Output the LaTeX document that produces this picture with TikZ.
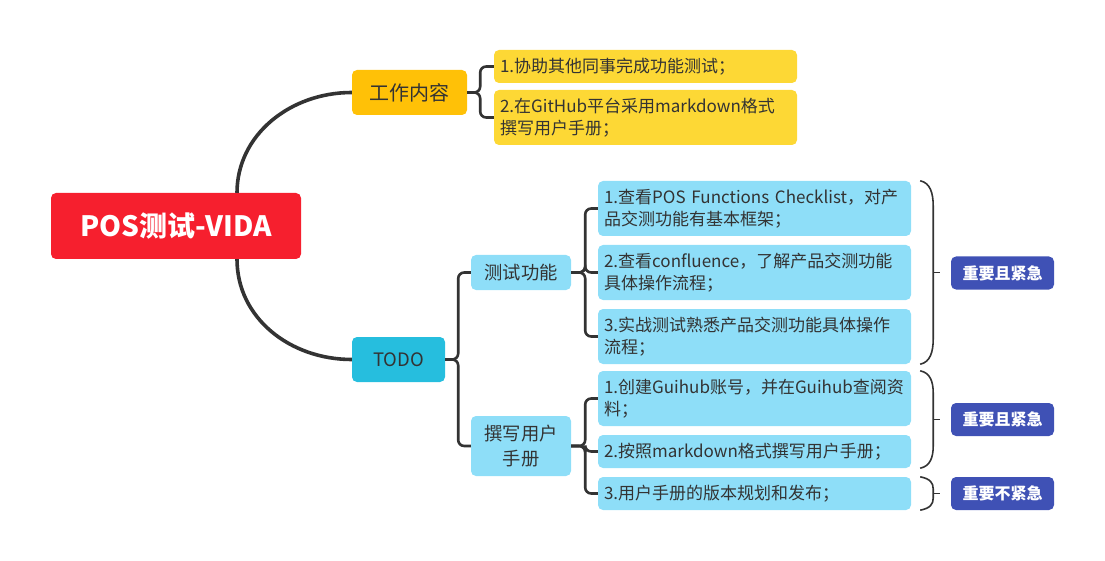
\documentclass[tikz,border=0pt]{standalone}
\usepackage{fontspec}
\setmainfont{Noto Sans CJK SC}
\usepackage{tikz}
\usetikzlibrary{calc}
\definecolor{rootred}{RGB}{246,31,46}
\definecolor{amber}{RGB}{255,193,7}
\definecolor{leafyellow}{RGB}{253,216,53}
\definecolor{todocyan}{RGB}{38,190,222}
\definecolor{leafblue}{RGB}{142,222,248}
\definecolor{tagblue}{RGB}{63,81,181}
\definecolor{ink}{RGB}{51,51,51}

\begin{document}
\begin{tikzpicture}[x=1pt,y=-1pt,
	box/.style={rounded corners=5pt,inner sep=0pt,text=ink},
	leaf/.style={box,minimum height=#1,text width=301pt,inner xsep=6pt,align=left,
		font=\fontsize{17}{22}\selectfont},
	leaf/.default=55pt,
	tag/.style={box,fill=tagblue,text=white,minimum width=103pt,minimum height=33pt,
		font=\fontsize{16}{20}\selectfont\bfseries},
	trunk/.style={draw=ink,line width=3.6pt},
	branch/.style={draw=ink,line width=2.6pt,rounded corners=6pt},
	brace/.style={draw=ink,line width=1.6pt}]
	\useasboundingbox (0,0) rectangle (1105,561);
	\def\lx{754.5};
	\def\jx{13};
	% first level
	\node[box,fill=rootred,text=white,minimum width=250pt,minimum height=66pt,
		font=\fontsize{28}{32}\selectfont\bfseries] (root) at (176,226) {POS测试-VIDA};
	\node[box,fill=amber,minimum width=115pt,minimum height=45pt,
		font=\fontsize{20}{22}\selectfont] (work) at (409.5,92.5) {工作内容};
	\node[box,fill=todocyan,minimum width=93pt,minimum height=45pt,
		font=\fontsize{18.5}{22}\selectfont] (todo) at (398.5,359.5) {TODO};
	% work content
	\node[leaf=33pt,fill=leafyellow,text width=291pt] (wl1) at (645.5,66.5) {1.协助其他同事完成功能测试；};
	\node[leaf,fill=leafyellow,text width=291pt] (wl2) at (645.5,117.5) {2.在GitHub平台采用markdown格式\\撰写用户手册；};
	% todo
	\node[box,fill=leafblue,minimum width=100pt,minimum height=35pt,
		font=\fontsize{18.3}{22}\selectfont] (test) at (521,272.5) {测试功能};
	\node[box,fill=leafblue,minimum width=100pt,minimum height=60pt,align=center,
		font=\fontsize{18.3}{25}\selectfont] (write) at (521,446) {撰写用户\\手册};
	\node[leaf,fill=leafblue] (t1) at (\lx,208.5) {1.查看POS Functions Checklist，对产\\品交测功能有基本框架；};
	\node[leaf,fill=leafblue] (t2) at (\lx,272.5) {2.查看confluence，了解产品交测功能\\具体操作流程；};
	\node[leaf,fill=leafblue] (t3) at (\lx,336.5) {3.实战测试熟悉产品交测功能具体操作\\流程；};
	\node[leaf,fill=leafblue] (w1) at (\lx,398.5) {1.创建Guihub账号，并在Guihub查阅资\\料；};
	\node[leaf=33pt,fill=leafblue] (w2) at (\lx,451.5) {2.按照markdown格式撰写用户手册；};
	\node[leaf=33pt,fill=leafblue] (w3) at (\lx,493.5) {3.用户手册的版本规划和发布；};
	\node[tag] (tag1) at (1002.5,273) {重要且紧急};
	\node[tag] (tag2) at (1002.5,419.5) {重要且紧急};
	\node[tag] (tag3) at (1002.5,493.5) {重要不紧急};
	% connectors
	\draw[trunk] ($(root.north)+(61,0)$) .. controls (237,135) and (290,92.5) .. (work.west);
	\draw[trunk] ($(root.south)+(61,0)$) .. controls (237,318) and (290,359.5) .. (todo.west);
	\draw[branch] (work.east) -- ++(\jx,0) |- (wl1.west);
	\draw[branch] (work.east) -- ++(\jx,0) |- (wl2.west);
	\draw[branch] (todo.east) -- ++(\jx,0) |- (test.west);
	\draw[branch] (todo.east) -- ++(\jx,0) |- (write.west);
	\foreach \c in {t1,t2,t3}
		\draw[branch] (test.east) -- ++(14,0) |- (\c.west);
	\foreach \c in {w1,w2,w3}
		\draw[branch] (write.east) -- ++(14,0) |- (\c.west);
	% braces
	\foreach \a/\b/\t/\r in {t1/t3/tag1/25,w1/w2/tag2/22,w3/w3/tag3/12} {
		\coordinate (top) at ($(\a.north east)+(9,0)$);
		\coordinate (bot) at ($(\b.south east)+(9,0)$);
		\draw[brace] (top) .. controls ($(top)+(10,2)$) and ($(top)+(13,\r/2)$) .. ($(top)+(13,\r)$)
			-- ($(bot)+(13,-\r)$) .. controls ($(bot)+(13,-\r/2)$) and ($(bot)+(10,-2)$) .. (bot);
		\draw[brace] ($(top)!0.5!(bot)+(13,0)$) -- ($(top)!0.5!(bot)+(20,0)$);
	}
\end{tikzpicture}
\end{document}
